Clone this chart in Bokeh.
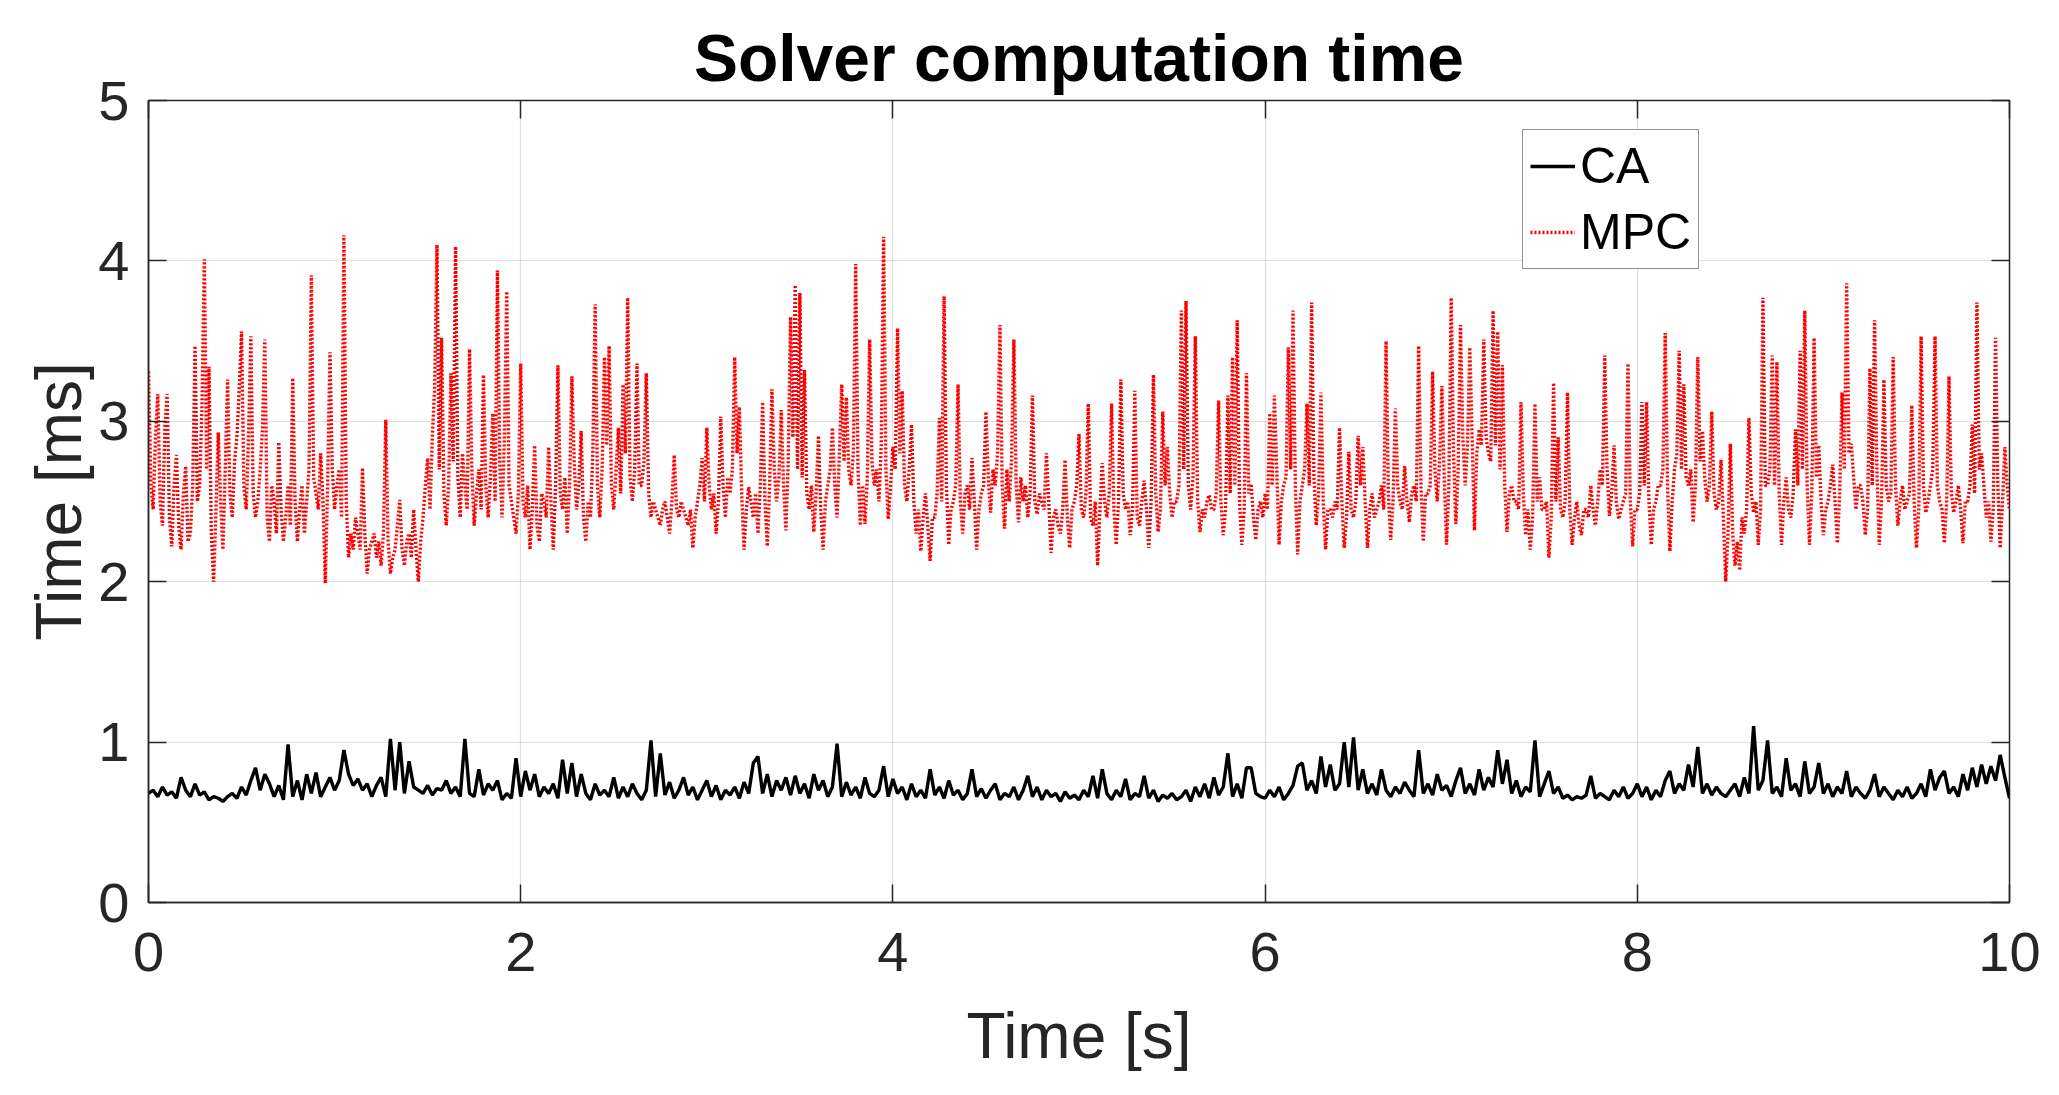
import numpy as np
from bokeh.plotting import figure
from bokeh.models import LinearAxis, FixedTicker, Legend, LegendItem, Range1d
from bokeh.embed import file_html
from bokeh.resources import INLINE

# ---- data ----
mpc_dt = 0.0125
mpc_ms = [
    3.31, 2.62, 2.45, 2.90, 3.17, 2.50, 2.35, 2.95, 3.17, 2.40, 2.22, 2.60, 2.79, 2.35, 2.20, 2.55, 2.72, 2.25, 2.30, 2.60,
    3.47, 2.50, 2.60, 3.10, 4.01, 2.70, 3.34, 2.30, 2.00, 2.45, 2.93, 2.50, 2.20, 2.70, 3.26, 2.55, 2.40, 2.75, 2.90, 3.20,
    3.56, 2.60, 2.45, 2.90, 3.53, 2.55, 2.40, 2.50, 2.70, 2.95, 3.51, 2.40, 2.25, 2.60, 2.50, 2.30, 2.87, 2.45, 2.25, 2.40,
    2.60, 2.35, 3.27, 2.50, 2.25, 2.45, 2.60, 2.30, 2.50, 2.70, 3.91, 2.65, 2.55, 2.45, 2.80, 2.50, 1.99, 2.60, 3.43, 2.70,
    2.45, 2.60, 2.70, 2.40, 4.16, 2.50, 2.15, 2.30, 2.20, 2.40, 2.30, 2.20, 2.71, 2.30, 2.05, 2.20, 2.25, 2.30, 2.15, 2.25,
    2.10, 2.30, 3.01, 2.25, 2.05, 2.15, 2.20, 2.35, 2.51, 2.20, 2.10, 2.25, 2.30, 2.15, 2.45, 2.20, 2.00, 2.25, 2.40, 2.60,
    2.77, 2.45, 2.90, 3.20, 4.10, 2.70, 3.52, 2.55, 2.35, 2.60, 3.30, 2.75, 4.09, 2.65, 2.40, 2.80, 2.60, 2.45, 3.45, 2.70,
    2.35, 2.55, 2.70, 2.45, 3.29, 2.60, 2.40, 2.65, 3.05, 2.50, 3.94, 2.75, 2.40, 2.90, 3.81, 2.60, 2.50, 2.40, 2.30, 2.55,
    3.36, 2.50, 2.40, 2.60, 2.20, 2.45, 2.85, 2.35, 2.25, 2.55, 2.50, 2.40, 2.84, 2.50, 2.20, 2.60, 3.35, 2.55, 2.45, 2.65,
    2.30, 2.60, 3.28, 2.75, 2.45, 2.60, 2.94, 2.40, 2.25, 2.50, 2.40, 2.80, 3.73, 2.60, 2.40, 2.70, 3.40, 2.85, 3.47, 2.60,
    2.45, 2.70, 2.96, 2.55, 3.23, 2.80, 3.77, 2.65, 2.50, 2.70, 3.36, 2.60, 2.60, 2.75, 3.30, 2.55, 2.40, 2.50, 2.45, 2.40,
    2.35, 2.45, 2.50, 2.40, 2.30, 2.50, 2.79, 2.45, 2.40, 2.50, 2.45, 2.40, 2.35, 2.45, 2.21, 2.40, 2.50, 2.60, 2.77, 2.50,
    2.96, 2.60, 2.45, 2.55, 2.30, 2.50, 3.03, 2.60, 2.40, 2.65, 2.55, 2.70, 3.40, 2.80, 3.09, 2.55, 2.20, 2.45, 2.59, 2.50,
    2.40, 2.55, 2.30, 2.60, 3.12, 2.50, 2.22, 2.60, 3.20, 2.70, 2.50, 2.65, 3.07, 2.60, 2.32, 2.75, 3.65, 2.90, 3.85, 2.70,
    3.80, 2.65, 3.32, 2.55, 2.45, 2.60, 2.31, 2.55, 2.91, 2.45, 2.20, 2.50, 2.60, 2.70, 2.96, 2.60, 2.40, 2.80, 3.23, 2.75,
    3.15, 2.70, 2.60, 2.80, 3.98, 2.70, 2.35, 2.60, 2.36, 2.65, 3.51, 2.75, 2.60, 2.70, 2.50, 2.85, 4.15, 2.70, 2.39, 2.60,
    2.84, 2.70, 3.58, 2.80, 3.19, 2.60, 2.50, 2.70, 2.98, 2.50, 2.30, 2.45, 2.19, 2.40, 2.55, 2.35, 2.13, 2.40, 2.40, 2.55,
    3.02, 2.50, 3.78, 2.60, 2.23, 2.45, 2.50, 2.60, 3.23, 2.50, 2.30, 2.55, 2.60, 2.45, 2.77, 2.50, 2.20, 2.45, 2.55, 2.60,
    3.06, 2.65, 2.43, 2.70, 2.60, 2.80, 3.60, 2.60, 2.33, 2.70, 2.50, 2.75, 3.51, 2.60, 2.37, 2.65, 2.50, 2.60, 2.40, 2.55,
    3.16, 2.50, 2.42, 2.55, 2.50, 2.45, 2.80, 2.50, 2.18, 2.40, 2.45, 2.35, 2.30, 2.45, 2.76, 2.40, 2.21, 2.45, 2.50, 2.60,
    2.92, 2.45, 2.40, 2.55, 3.11, 2.40, 2.35, 2.50, 2.10, 2.45, 2.74, 2.50, 2.40, 2.55, 3.11, 2.45, 2.23, 2.50, 3.26, 2.55,
    2.45, 2.50, 2.29, 2.45, 3.19, 2.40, 2.35, 2.50, 2.63, 2.45, 2.21, 2.50, 3.29, 2.55, 2.31, 2.45, 3.06, 2.60, 2.84, 2.55,
    2.40, 2.50, 2.50, 2.60, 3.69, 2.70, 3.75, 2.60, 2.45, 2.65, 3.53, 2.50, 2.31, 2.45, 2.40, 2.50, 2.54, 2.45, 2.45, 2.55,
    3.13, 2.50, 2.29, 2.45, 3.16, 2.55, 3.40, 2.60, 3.63, 2.50, 2.23, 2.45, 3.30, 2.55, 2.61, 2.40, 2.26, 2.45, 2.50, 2.40,
    2.55, 2.45, 3.05, 2.60, 3.16, 2.70, 2.23, 2.50, 2.60, 2.65, 3.46, 2.70, 3.69, 2.60, 2.17, 2.50, 2.60, 2.70, 3.11, 2.60,
    3.74, 2.65, 2.35, 2.55, 3.18, 2.50, 2.20, 2.45, 2.45, 2.40, 2.50, 2.45, 2.96, 2.50, 2.21, 2.40, 2.81, 2.45, 2.40, 2.50,
    2.91, 2.60, 2.84, 2.50, 2.21, 2.45, 2.55, 2.40, 2.45, 2.50, 2.60, 2.45, 3.50, 2.55, 2.26, 2.50, 3.08, 2.60, 2.50, 2.45,
    2.72, 2.50, 2.37, 2.55, 2.60, 2.50, 3.47, 2.60, 2.25, 2.55, 2.55, 2.60, 3.31, 2.70, 2.50, 2.75, 3.22, 2.65, 2.23, 2.60,
    3.77, 2.80, 2.36, 2.70, 3.60, 2.90, 2.60, 2.85, 3.46, 2.90, 2.32, 2.80, 2.95, 2.85, 3.51, 2.90, 2.80, 2.75, 3.69, 2.85,
    3.56, 2.70, 3.35, 2.60, 2.31, 2.55, 2.60, 2.50, 2.50, 2.45, 3.12, 2.55, 2.29, 2.45, 2.20, 2.40, 3.11, 2.50, 2.65, 2.45,
    2.45, 2.50, 2.15, 2.40, 3.24, 2.50, 2.90, 2.45, 2.40, 2.50, 3.18, 2.45, 2.23, 2.40, 2.50, 2.35, 2.29, 2.45, 2.45, 2.40,
    2.60, 2.45, 2.35, 2.50, 2.70, 2.60, 3.41, 2.70, 2.41, 2.55, 2.85, 2.50, 2.39, 2.45, 2.50, 2.55, 3.36, 2.50, 2.22, 2.45,
    2.45, 2.55, 3.12, 2.60, 3.12, 2.50, 2.23, 2.45, 2.50, 2.60, 2.60, 2.70, 3.55, 2.60, 2.19, 2.50, 2.70, 2.80, 3.44, 2.70,
    3.23, 2.65, 2.60, 2.70, 2.37, 2.60, 3.40, 2.75, 2.94, 2.65, 2.50, 2.60, 3.06, 2.55, 2.45, 2.50, 2.76, 2.40, 2.00, 2.30,
    2.86, 2.30, 2.10, 2.25, 2.07, 2.40, 2.30, 2.45, 3.02, 2.55, 2.43, 2.50, 2.23, 2.45, 3.77, 2.60, 2.60, 2.70, 3.41, 2.60,
    3.37, 2.55, 2.23, 2.50, 2.65, 2.45, 2.40, 2.55, 2.95, 2.60, 3.44, 2.70, 3.69, 2.60, 2.23, 2.55, 3.52, 2.65, 2.85, 2.50,
    2.29, 2.45, 2.50, 2.60, 2.73, 2.50, 2.24, 2.55, 3.18, 2.70, 3.86, 2.80, 2.86, 2.65, 2.45, 2.60, 2.60, 2.50, 2.29, 2.45,
    3.33, 2.60, 3.63, 2.70, 2.23, 2.50, 3.26, 2.60, 2.50, 2.55, 3.40, 2.60, 2.35, 2.50, 2.60, 2.45, 2.50, 2.55, 3.10, 2.50,
    2.21, 2.45, 3.53, 2.60, 2.43, 2.50, 2.60, 2.70, 3.53, 2.60, 2.50, 2.45, 2.24, 2.50, 3.28, 2.55, 2.43, 2.50, 2.60, 2.45,
    2.24, 2.50, 2.50, 2.60, 2.98, 2.55, 3.74, 2.70, 2.80, 2.60, 2.40, 2.50, 2.25, 2.45, 3.52, 2.60, 2.21, 2.50, 2.84, 2.60,
    2.45,
]
ca_dt = 0.025
ca_ms = [
    0.68, 0.70, 0.66, 0.72, 0.67, 0.69, 0.65, 0.78, 0.70, 0.66,
    0.74, 0.67, 0.69, 0.64, 0.66, 0.65, 0.63, 0.66, 0.68, 0.65,
    0.72, 0.67, 0.76, 0.84, 0.70, 0.80, 0.74, 0.66, 0.73, 0.64,
    0.985, 0.66, 0.76, 0.64, 0.80, 0.68, 0.81, 0.66, 0.72, 0.78,
    0.70, 0.76, 0.95, 0.80, 0.73, 0.77, 0.70, 0.74, 0.66, 0.73,
    0.78, 0.66, 1.02, 0.70, 1.00, 0.68, 0.88, 0.72, 0.70, 0.68,
    0.73, 0.67, 0.71, 0.70, 0.76, 0.68, 0.72, 0.66, 1.02, 0.68,
    0.66, 0.83, 0.67, 0.74, 0.70, 0.76, 0.64, 0.68, 0.65, 0.90,
    0.66, 0.82, 0.70, 0.80, 0.66, 0.72, 0.68, 0.74, 0.65, 0.89,
    0.68, 0.87, 0.66, 0.80, 0.68, 0.64, 0.74, 0.67, 0.70, 0.66,
    0.78, 0.65, 0.72, 0.66, 0.74, 0.68, 0.64, 0.70, 1.01, 0.66,
    0.93, 0.67, 0.75, 0.65, 0.70, 0.78, 0.67, 0.72, 0.64, 0.70,
    0.76, 0.66, 0.73, 0.64, 0.70, 0.67, 0.72, 0.65, 0.75, 0.68,
    0.87, 0.91, 0.68, 0.80, 0.66, 0.76, 0.70, 0.78, 0.67, 0.79,
    0.68, 0.74, 0.65, 0.80, 0.70, 0.76, 0.66, 0.72, 0.99, 0.66,
    0.75, 0.67, 0.72, 0.65, 0.78, 0.68, 0.66, 0.70, 0.85, 0.66,
    0.77, 0.68, 0.72, 0.64, 0.74, 0.66, 0.70, 0.65, 0.83, 0.67,
    0.72, 0.65, 0.76, 0.67, 0.70, 0.64, 0.68, 0.83, 0.66, 0.71,
    0.65, 0.70, 0.74, 0.64, 0.68, 0.66, 0.72, 0.64, 0.70, 0.79,
    0.66, 0.72, 0.64, 0.70, 0.66, 0.68, 0.63, 0.69, 0.65, 0.67,
    0.64, 0.70, 0.66, 0.79, 0.65, 0.83, 0.68, 0.64, 0.70, 0.66,
    0.77, 0.64, 0.68, 0.66, 0.79, 0.65, 0.70, 0.63, 0.67, 0.65,
    0.68, 0.64, 0.66, 0.70, 0.63, 0.72, 0.66, 0.74, 0.65, 0.78,
    0.67, 0.72, 0.93, 0.66, 0.74, 0.65, 0.84, 0.84, 0.68, 0.66,
    0.65, 0.70, 0.66, 0.72, 0.64, 0.68, 0.73, 0.85, 0.87, 0.70,
    0.76, 0.68, 0.91, 0.72, 0.86, 0.70, 0.74, 1.00, 0.72, 1.03,
    0.70, 0.83, 0.68, 0.74, 0.67, 0.83, 0.70, 0.66, 0.72, 0.68,
    0.75, 0.70, 0.66, 0.95, 0.68, 0.74, 0.67, 0.80, 0.70, 0.73,
    0.66, 0.76, 0.84, 0.68, 0.74, 0.67, 0.83, 0.70, 0.78, 0.72,
    0.95, 0.74, 0.89, 0.68, 0.76, 0.66, 0.72, 0.69, 1.01, 0.66,
    0.74, 0.82, 0.68, 0.72, 0.65, 0.67, 0.64, 0.66, 0.65, 0.67,
    0.79, 0.65, 0.68, 0.66, 0.64, 0.70, 0.66, 0.72, 0.65, 0.68,
    0.74, 0.66, 0.72, 0.64, 0.70, 0.66, 0.76, 0.82, 0.68, 0.74,
    0.70, 0.86, 0.72, 0.97, 0.68, 0.74, 0.67, 0.72, 0.68, 0.66,
    0.70, 0.74, 0.66, 0.78, 0.68, 1.10, 0.70, 0.76, 1.01, 0.68,
    0.72, 0.66, 0.90, 0.70, 0.74, 0.66, 0.88, 0.68, 0.72, 0.87,
    0.68, 0.74, 0.66, 0.72, 0.68, 0.82, 0.66, 0.72, 0.68, 0.65,
    0.70, 0.80, 0.66, 0.72, 0.68, 0.64, 0.70, 0.66, 0.72, 0.65,
    0.68, 0.74, 0.66, 0.83, 0.70, 0.78, 0.82, 0.68, 0.72, 0.66,
    0.80, 0.70, 0.84, 0.72, 0.86, 0.74, 0.85, 0.76, 0.92, 0.78,
    0.65,
]
mpc_time_s = [round(i * mpc_dt, 4) for i in range(len(mpc_ms))]
ca_time_s = [round(i * ca_dt, 4) for i in range(len(ca_ms))]

x_ticks = [0, 2, 4, 6, 8, 10]
y_ticks = [0, 1, 2, 3, 4, 5]
title_text = "Solver computation time"
x_label = "Time [s]"
y_label = "Time [ms]"
series_names = ["CA", "MPC"]

AX = "#262626"
FONT = "Liberation Sans"

p = figure(width=2043, height=1079, output_backend="svg", toolbar_location=None,
           x_range=Range1d(0, 10), y_range=Range1d(0, 5),
           min_border_left=148, min_border_right=34, min_border_top=100,
           min_border_bottom=177, background_fill_color="white",
           border_fill_color="white")

p.outline_line_color = AX
p.outline_line_width = 1.5

p.title.text = title_text
p.title.text_font = FONT
p.title.text_font_size = "66px"
p.title.text_font_style = "bold"
p.title.align = "center"
p.title.text_color = "black"
p.title.standoff = 11

for ax in (p.xaxis[0], p.yaxis[0]):
    ax.major_label_text_font = FONT
    ax.major_label_text_font_size = "56px"
    ax.major_label_text_color = AX
    ax.axis_label_text_font = FONT
    ax.axis_label_text_font_size = "64px"
    ax.axis_label_text_font_style = "normal"
    ax.axis_label_text_color = AX
    ax.axis_line_color = AX
    ax.axis_line_width = 1.5
    ax.major_tick_line_color = AX
    ax.major_tick_line_width = 1.5
    ax.major_tick_in = 18
    ax.major_tick_out = 0
    ax.minor_tick_line_color = None

p.xaxis[0].ticker = FixedTicker(ticks=x_ticks)
p.yaxis[0].ticker = FixedTicker(ticks=y_ticks)
p.xaxis[0].axis_label = x_label
p.yaxis[0].axis_label = y_label
p.xaxis[0].major_label_standoff = 30
p.yaxis[0].major_label_standoff = 19
p.xaxis[0].axis_label_standoff = 26
p.yaxis[0].axis_label_standoff = 0

# box ticks on top and right (no labels)
top_ax = LinearAxis(ticker=FixedTicker(ticks=x_ticks),
                    major_label_overrides={t: "" for t in x_ticks},
                    major_label_standoff=0, major_tick_in=18, major_tick_out=0,
                    major_tick_line_color=AX, major_tick_line_width=1.5,
                    minor_tick_line_color=None, axis_line_color=None)
right_ax = LinearAxis(ticker=FixedTicker(ticks=y_ticks),
                      major_label_overrides={t: "" for t in y_ticks},
                      major_label_standoff=0, major_tick_in=18, major_tick_out=0,
                      major_tick_line_color=AX, major_tick_line_width=1.5,
                      minor_tick_line_color=None, axis_line_color=None)
p.add_layout(top_ax, "above")
p.add_layout(right_ax, "right")

p.xgrid.ticker = FixedTicker(ticks=x_ticks)
p.ygrid.ticker = FixedTicker(ticks=y_ticks)
p.grid.grid_line_color = AX
p.grid.grid_line_alpha = 0.15
p.grid.grid_line_width = 1.2

r_mpc = p.line(mpc_time_s, mpc_ms, line_color="red", line_width=3.4, line_dash="2 2")
r_ca = p.line(ca_time_s, ca_ms, line_color="black", line_width=3.4)

legend = Legend(items=[LegendItem(label=series_names[0], renderers=[r_ca]),
                       LegendItem(label=series_names[1], renderers=[r_mpc])],
                location=(1374, 633))
legend.label_text_font = FONT
legend.label_text_font_size = "50px"
legend.label_text_color = "black"
legend.glyph_width = 45
legend.glyph_height = 50
legend.label_standoff = 5
legend.spacing = 8
legend.padding = 7
legend.margin = 0
legend.border_line_color = AX
legend.border_line_width = 1.5
legend.background_fill_color = "white"
legend.background_fill_alpha = 1.0
p.add_layout(legend, "center")

open("out.html", "w").write(file_html(p, INLINE))
